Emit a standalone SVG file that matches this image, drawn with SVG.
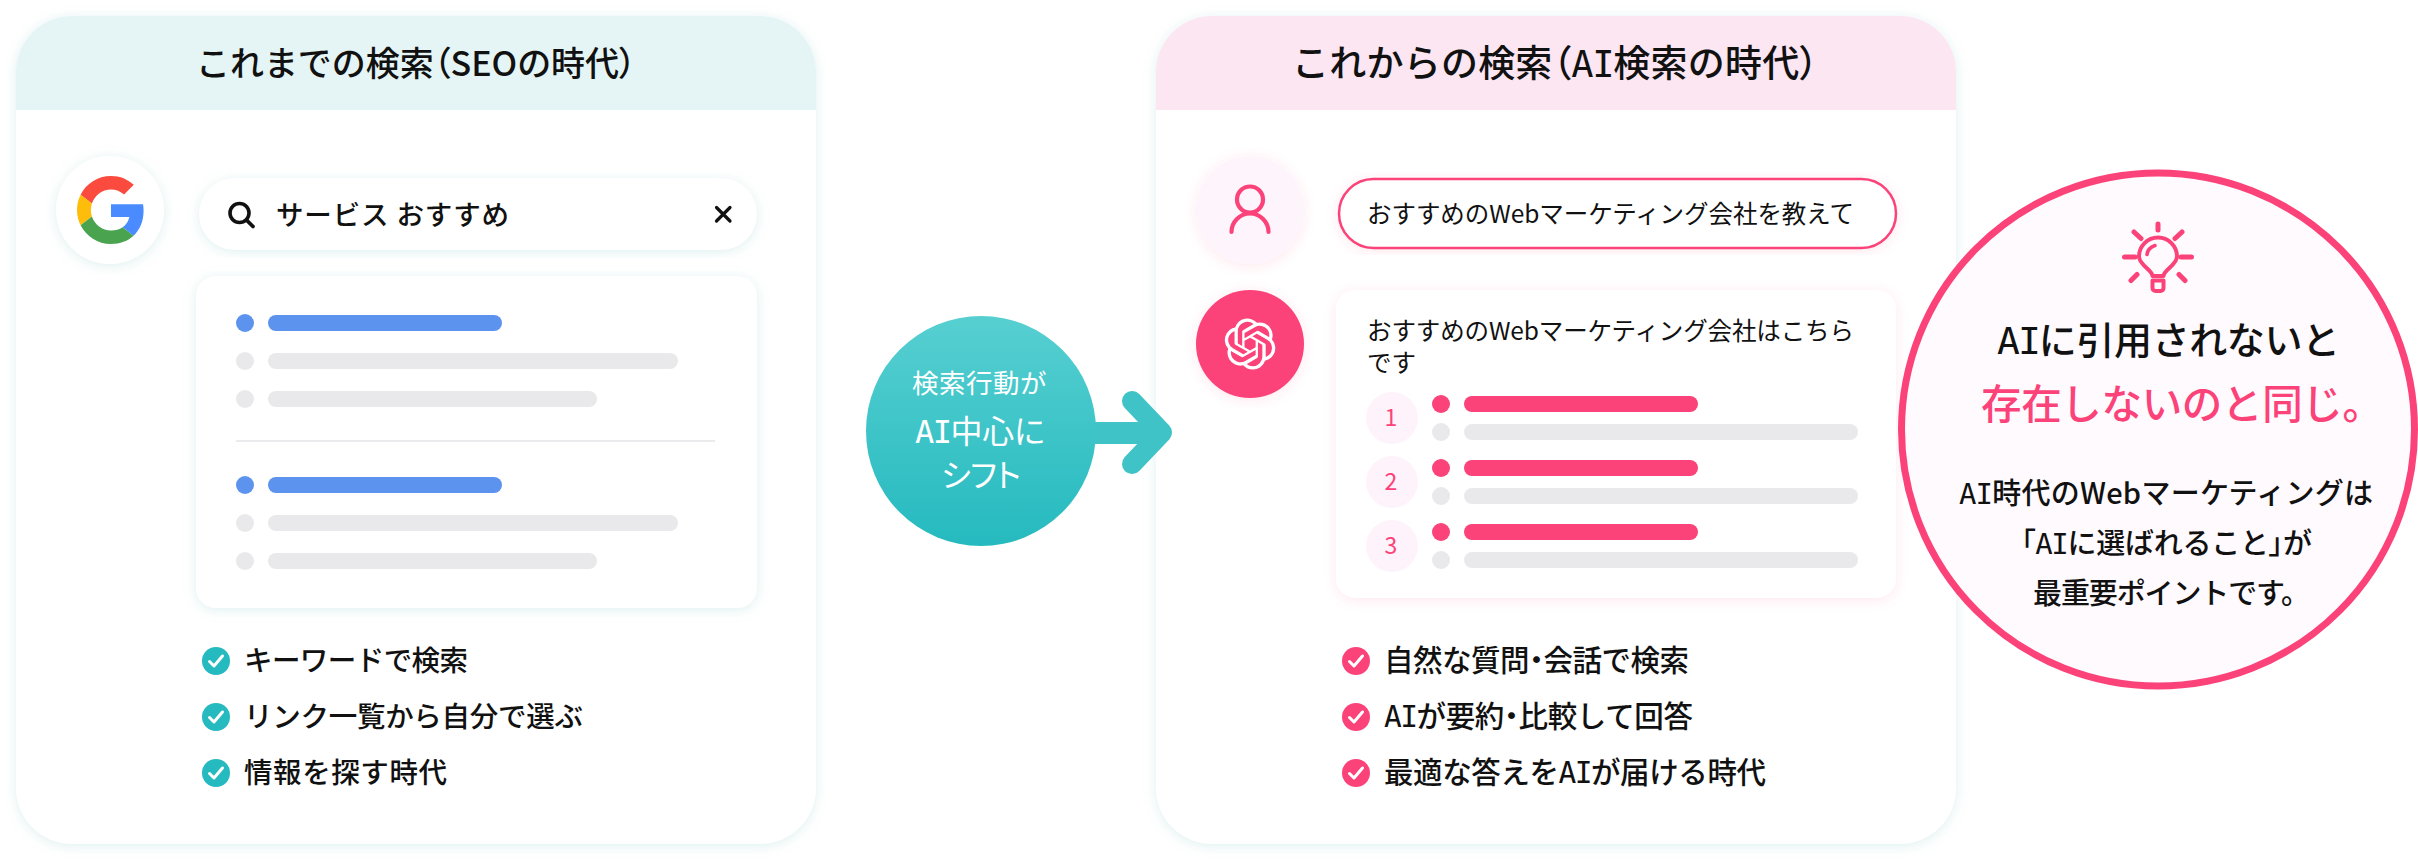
<svg xmlns="http://www.w3.org/2000/svg" width="2418" height="860" viewBox="0 0 2418 860">
<style>
text{font-family:"Noto Sans CJK JP","Noto Sans",sans-serif;font-weight:500;fill:#111}
.p{font-feature-settings:"palt"}
.i{font-family:"DejaVu Sans Mono",monospace;letter-spacing:-.04em}
.li{font-size:28.500px}
.li2{font-size:29.500px}
.msg{font-size:24.500px;font-weight:400}
.sub{font-size:29px}
.w{fill:#fff;font-weight:400;font-feature-settings:"palt"}
.num{font-size:23px;fill:#fd4179;text-anchor:middle;font-weight:400}
.blue{fill:#5c93ee}.grey{fill:#e9e9eb}.pink{fill:#fb4379}
.tick{fill:none;stroke:#fff;stroke-width:3;stroke-linecap:round;stroke-linejoin:round}
.ln{fill:none;stroke:#fb4379;stroke-linecap:round;stroke-linejoin:round}
</style>
<defs>
<filter id="st" x="-10%" y="-10%" width="120%" height="120%"><feDropShadow dx="0" dy="2" stdDeviation="6" flood-color="#8cc8c8" flood-opacity=".28"/></filter>
<filter id="sp" x="-10%" y="-10%" width="120%" height="120%"><feDropShadow dx="0" dy="2" stdDeviation="6" flood-color="#fd4179" flood-opacity=".13"/></filter>
<linearGradient id="tg" x1="0" y1="0" x2="0" y2="1"><stop offset="0" stop-color="#57cfd1"/><stop offset="1" stop-color="#25babf"/></linearGradient>
<g id="tk"><path class="tick" d="M-6.500 0.500L-2 5L6.500-5"/></g>
</defs>
<rect width="2418" height="860" fill="#fff"/>

<g id="card-before">
<rect x="16" y="16" width="800" height="828" rx="56" fill="#fff" filter="url(#st)"/>
<path d="M16 110V72a56 56 0 0 1 56-56H760a56 56 0 0 1 56 56V110Z" fill="#e5f5f5"/>
<text x="196" y="76" font-size="34" textLength="440">これまでの検索<tspan class="p">（</tspan>SEOの時代<tspan class="p">）</tspan></text>
</g>
<g id="google-logo">
<circle cx="110" cy="210" r="54" fill="#fff" filter="url(#st)"/>
<g transform="translate(77 176) scale(1.417)">
<path fill="#fb4a3e" d="M24 9.500c3.540 0 6.710 1.220 9.210 3.600l6.850-6.850C35.900 2.380 30.470 0 24 0 14.620 0 6.510 5.380 2.560 13.220l7.980 6.190C12.430 13.720 17.740 9.500 24 9.500z"/>
<path fill="#4a8cff" d="M46.980 24.550c0-1.570-.15-3.090-.38-4.550H24v9.020h12.940c-.58 2.960-2.260 5.480-4.780 7.180l7.730 6c4.510-4.180 7.090-10.360 7.090-17.650z"/>
<path fill="#fdbd0a" d="M10.530 28.590c-.48-1.450-.76-2.990-.76-4.590s.27-3.140.76-4.590l-7.980-6.190C.92 16.460 0 20.120 0 24c0 3.880.92 7.540 2.560 10.780l7.970-6.190z"/>
<path fill="#4aa44f" d="M24 48c6.480 0 11.930-2.130 15.890-5.810l-7.730-6c-2.150 1.450-4.920 2.300-8.160 2.300-6.260 0-11.570-4.220-13.470-9.910l-7.980 6.190C6.510 42.620 14.620 48 24 48z"/>
</g>
</g>
<g id="search-box">
<rect x="199" y="178" width="558" height="72" rx="36" fill="#fff" filter="url(#st)"/>
<circle cx="239.500" cy="213" r="9.500" fill="none" stroke="#111" stroke-width="3.600"/>
<path d="M246.500 220L253 226.500" stroke="#111" stroke-width="3.800" stroke-linecap="round"/>
<text x="276" y="225" font-size="27.500" textLength="233">サービス おすすめ</text>
<path d="M716.500 207.500L730 221M730 207.500L716.500 221" stroke="#111" stroke-width="3.200" stroke-linecap="round"/>
</g>
<g id="search-results">
<rect x="196" y="276" width="561" height="332" rx="20" fill="#fff" filter="url(#st)"/>
<circle cx="245" cy="323" r="9" class="blue"/><rect x="268" y="315" width="234" height="16" rx="8" class="blue"/>
<circle cx="245" cy="361" r="9" class="grey"/><rect x="268" y="353" width="410" height="16" rx="8" class="grey"/>
<circle cx="245" cy="399" r="9" class="grey"/><rect x="268" y="391" width="329" height="16" rx="8" class="grey"/>
<rect x="236" y="440" width="479" height="2" fill="#ebebed"/>
<circle cx="245" cy="485" r="9" class="blue"/><rect x="268" y="477" width="234" height="16" rx="8" class="blue"/>
<circle cx="245" cy="523" r="9" class="grey"/><rect x="268" y="515" width="410" height="16" rx="8" class="grey"/>
<circle cx="245" cy="561" r="9" class="grey"/><rect x="268" y="553" width="329" height="16" rx="8" class="grey"/>
</g>
<g id="before-list">
<circle cx="216" cy="661" r="14" fill="#25babf"/><use href="#tk" x="216" y="661"/>
<text class="li" x="244" y="671" textLength="224">キーワードで検索</text>
<circle cx="216" cy="717" r="14" fill="#25babf"/><use href="#tk" x="216" y="717"/>
<text class="li" x="244" y="727" textLength="339">リンク一覧から自分で選ぶ</text>
<circle cx="216" cy="773" r="14" fill="#25babf"/><use href="#tk" x="216" y="773"/>
<text class="li" x="244" y="783" textLength="203">情報を探す時代</text>
</g>

<g id="card-after">
<rect x="1156" y="16" width="800" height="828" rx="56" fill="#fff" filter="url(#st)"/>
<path d="M1156 110V72a56 56 0 0 1 56-56H1900a56 56 0 0 1 56 56V110Z" fill="#fbe6f2"/>
<text x="1292" y="77" font-size="37" textLength="526">これからの検索<tspan class="p">（</tspan><tspan class="i">AI</tspan>検索の時代<tspan class="p">）</tspan></text>
</g>

<g id="connectors">
<rect x="1085" y="422" width="70" height="22" fill="#3fc3c7"/>
<path d="M1132 401L1162 432.500L1132 464" fill="none" stroke="#3fc3c7" stroke-width="20" stroke-linecap="round" stroke-linejoin="round"/>
</g>
<g id="shift-badge">
<circle cx="981" cy="431" r="115" fill="url(#tg)"/>
<text class="w" x="912" y="393" font-size="26.500" textLength="134">検索行動が</text>
<text class="w" x="915" y="443" font-size="32" textLength="130"><tspan class="i">AI</tspan>中心に</text>
<text class="w" x="941" y="487" font-size="32" textLength="80">シフト</text>
</g>

<g id="user-icon">
<circle cx="1250" cy="210" r="54" fill="#fdf5fb" filter="url(#sp)"/>
<circle class="ln" cx="1250" cy="199.500" r="13" stroke-width="4.200"/>
<path class="ln" stroke-width="4.200" d="M1231.500 232a18.500 18.500 0 0 1 37 0"/>
</g>
<g id="question">
<rect x="1339" y="179" width="557" height="69" rx="34.500" fill="#fff" stroke="#fb4379" stroke-width="2.500" filter="url(#sp)"/>
<text class="msg" x="1367" y="223" textLength="487">おすすめのWebマーケティング会社を教えて</text>
</g>
<g id="ai-icon">
<circle cx="1250" cy="344" r="54" class="pink" filter="url(#sp)"/>
<path fill="#fff" transform="translate(1224.500 318.500) scale(2.130)" d="M22.2819 9.8211a5.9847 5.9847 0 0 0-.5157-4.9108 6.0462 6.0462 0 0 0-6.5098-2.9A6.0651 6.0651 0 0 0 4.9807 4.1818a5.9847 5.9847 0 0 0-3.9977 2.9 6.0462 6.0462 0 0 0 .7427 7.0966 5.98 5.98 0 0 0 .511 4.9107 6.051 6.051 0 0 0 6.5146 2.9001A5.9847 5.9847 0 0 0 13.2599 24a6.0557 6.0557 0 0 0 5.7718-4.2058 5.9894 5.9894 0 0 0 3.9977-2.9001 6.0557 6.0557 0 0 0-.7475-7.0729zm-9.022 12.6081a4.4755 4.4755 0 0 1-2.8764-1.0408l.1419-.0804 4.7783-2.7582a.7948.7948 0 0 0 .3927-.6813v-6.7369l2.02 1.1686a.071.071 0 0 1 .038.052v5.5826a4.504 4.504 0 0 1-4.4945 4.4944zm-9.6607-4.1254a4.4708 4.4708 0 0 1-.5346-3.0137l.142.0852 4.783 2.7582a.7712.7712 0 0 0 .7806 0l5.8428-3.3685v2.3324a.0804.0804 0 0 1-.0332.0615L9.74 19.9502a4.4992 4.4992 0 0 1-6.1408-1.6464zM2.3408 7.8956a4.485 4.485 0 0 1 2.3655-1.9728V11.6a.7664.7664 0 0 0 .3879.6765l5.8144 3.3543-2.0201 1.1685a.0757.0757 0 0 1-.071 0l-4.8303-2.7865A4.504 4.504 0 0 1 2.3408 7.872zm16.5963 3.8558L13.1038 8.364 15.1192 7.2a.0757.0757 0 0 1 .071 0l4.8303 2.7913a4.4944 4.4944 0 0 1-.6765 8.1042v-5.6772a.79.79 0 0 0-.407-.667zm2.0107-3.0231l-.142-.0852-4.7735-2.7818a.7759.7759 0 0 0-.7854 0L9.409 9.2297V6.8974a.0662.0662 0 0 1 .0284-.0615l4.8303-2.7866a4.4992 4.4992 0 0 1 6.6802 4.66zM8.3065 12.863l-2.02-1.1638a.0804.0804 0 0 1-.038-.0567V6.0742a4.4992 4.4992 0 0 1 7.3757-3.4537l-.142.0805L8.704 5.459a.7948.7948 0 0 0-.3927.6813zm1.0976-2.3654l2.602-1.4998 2.6069 1.4998v2.9994l-2.5974 1.4997-2.6067-1.4997Z"/>
</g>
<g id="answer">
<rect x="1336" y="290" width="560" height="308" rx="20" fill="#fff" filter="url(#sp)"/>
<text class="msg" x="1367" y="340" textLength="487">おすすめのWebマーケティング会社はこちら</text>
<text class="msg" x="1367" y="372">です</text>
<circle cx="1392" cy="418" r="26" fill="#fef3fb"/><text class="num" x="1391" y="426">1</text>
<circle cx="1392" cy="482" r="26" fill="#fef3fb"/><text class="num" x="1391" y="490">2</text>
<circle cx="1392" cy="546" r="26" fill="#fef3fb"/><text class="num" x="1391" y="554">3</text>
<circle cx="1441" cy="404" r="9" class="pink"/><rect x="1464" y="396" width="234" height="16" rx="8" class="pink"/>
<circle cx="1441" cy="432" r="9" class="grey"/><rect x="1464" y="424" width="394" height="16" rx="8" class="grey"/>
<circle cx="1441" cy="468" r="9" class="pink"/><rect x="1464" y="460" width="234" height="16" rx="8" class="pink"/>
<circle cx="1441" cy="496" r="9" class="grey"/><rect x="1464" y="488" width="394" height="16" rx="8" class="grey"/>
<circle cx="1441" cy="532" r="9" class="pink"/><rect x="1464" y="524" width="234" height="16" rx="8" class="pink"/>
<circle cx="1441" cy="560" r="9" class="grey"/><rect x="1464" y="552" width="394" height="16" rx="8" class="grey"/>
</g>
<g id="after-list">
<circle cx="1356" cy="661" r="14" class="pink"/><use href="#tk" x="1356" y="661"/>
<text class="li2" x="1384" y="671" textLength="305">自然な質問<tspan class="p">・</tspan>会話で検索</text>
<circle cx="1356" cy="717" r="14" class="pink"/><use href="#tk" x="1356" y="717"/>
<text class="li2" x="1384" y="727" textLength="309"><tspan class="i">AI</tspan>が要約<tspan class="p">・</tspan>比較して回答</text>
<circle cx="1356" cy="773" r="14" class="pink"/><use href="#tk" x="1356" y="773"/>
<text class="li2" x="1384" y="783" textLength="382">最適な答えを<tspan class="i">AI</tspan>が届ける時代</text>
</g>

<g id="callout">
<circle cx="2158" cy="429.500" r="256.500" fill="#fffafe" stroke="#fb4379" stroke-width="7"/>
<g class="ln" stroke-width="5">
<path d="M2158 224V230M2124.500 257H2135M2181 257H2191.500M2134 232L2141 238.500M2182 232L2175 238.500M2131 280.500L2137 274.500M2185 280.500L2179 274.500"/>
<path stroke-width="4" d="M2152.500 276C2152.500 270 2139 265 2139 256.500A19 19 0 0 1 2177 256.500C2177 265 2163.500 270 2163.500 276M2152.500 280.500V288a3 3 0 0 0 3 3H2160.500a3 3 0 0 0 3-3V280.500ZM2152.500 276H2163.500"/>
<path stroke-width="3.500" d="M2147 254.500C2147.500 250 2150.500 247 2155 245.500"/>
</g>
<text x="1997" y="354" font-size="38" textLength="343"><tspan class="i">AI</tspan>に引用されないと</text>
<text x="1981" y="419" font-size="40.500" style="fill:#fb4379" textLength="402">存在しないのと同じ。</text>
<text class="sub" x="1959" y="504" textLength="414"><tspan class="i">AI</tspan>時代のWebマーケティングは</text>
<text class="sub" x="2021" y="554" textLength="291"><tspan class="p">「</tspan><tspan class="i">AI</tspan>に選ばれること<tspan class="p">」</tspan>が</text>
<text class="sub" x="2033" y="604" textLength="277">最重要ポイントです。</text>
</g>
</svg>
